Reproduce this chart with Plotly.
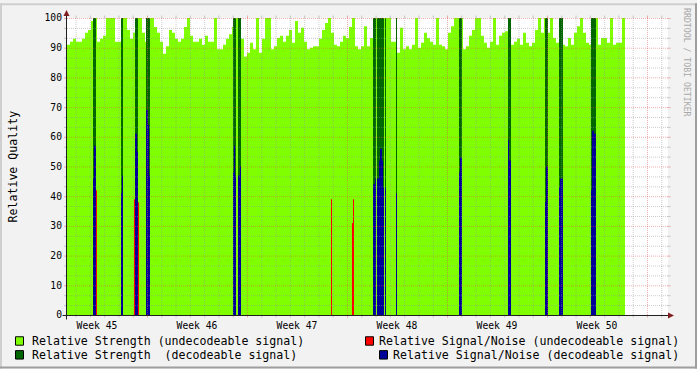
import plotly.graph_objects as go

# ---------------- data ----------------
# time unit: RRD step (one pixel column) = 1.68 h; t=0 is Monday 00:00 of ISO week 45
STEP_H = 1.68
T_START = 20          # first step shown
T_END = 621           # last step of the x axis
SAMPLE_EVERY = 3      # strength (undecodeable) consolidated every 3 steps

strength_undec = [
    91, 92, 93, 92, 92, 93, 95, 96, 99, 100,
    92, 93, 94, 100, 100, 100, 92, 92, 100, 100,
    96, 93, 95, 100, 100, 95, 92, 100, 100, 97,
    95, 92, 88, 90.5, 96, 95, 93, 92, 93, 97,
    100, 94, 92, 92, 93, 91,
    94, 92, 92, 100, 89.5, 89.5, 91, 93, 94.5, 97,
    100, 100, 93, 87, 88.3, 91.7, 89.5, 100, 88.3, 93,
    100, 100, 89.5, 90.5, 93.3, 94, 92, 94, 96, 91.7,
    99, 95, 96.7, 92, 89.5, 90, 90.5, 90.5, 93, 96,
    98.3, 100, 95, 91, 90.5, 92, 94,
    93.3, 97, 100, 90.5, 89.5, 90.5, 97.2, 90.5, 93.3, 100,
    100, 100, 100, 100, 100, 92, 92, 88.3, 96.7, 89.5,
    90.5, 89.5, 91, 100, 90, 91.7, 95, 93.3, 92, 91,
    100, 91, 90.5, 89.5, 95, 97.2, 100, 100, 100, 89.5,
    90.5, 94, 96, 100, 100, 94, 91.7,
    90, 92, 100, 91, 94, 95, 95.5, 100, 91, 92,
    93, 91, 95, 91.7, 90.5, 91.7, 96, 100, 95, 100,
    95, 100, 93.3, 91.7, 100, 91, 90.5, 93.3, 91, 95,
    97.2, 100, 95, 91.7, 91, 100, 100, 91, 93.3, 93.3,
    91.7, 100, 91, 91.7, 91.7, 100,
]

strength_dec_steps = [46, 47, 48, 74, 75, 88, 89, 90, 99, 100, 101, 102,
                      186, 187, 188, 191, 192, 193,
                      326, 327, 328, 330, 331, 332, 333, 334, 335, 336, 338, 349,
                      412, 413, 414, 461, 462, 463, 498, 499, 500,
                      512, 513, 514, 515, 544, 545, 546, 547, 548]
strength_dec_vals = [100, 100, 100, 100, 100, 100, 100, 100, 100, 100, 100, 100,
                     100, 100, 100, 100, 100, 100,
                     100, 100, 100, 100, 100, 100, 100, 100, 100, 100, 100, 100,
                     100, 100, 100, 100, 100, 100, 100, 100, 100,
                     100, 100, 100, 100, 100, 100, 100, 100, 100]

sn_dec_steps = [46, 47, 48, 74, 75, 88, 89, 90, 99, 100, 101, 102,
                186, 187, 188, 191, 192, 193,
                326, 327, 328, 330, 331, 332, 333, 334, 335, 336, 338, 349,
                412, 413, 414, 461, 462, 463, 498, 499, 500,
                512, 513, 514, 515, 544, 545, 546, 547, 548]
sn_dec_vals = [46, 57, 57, 41, 47, 61, 61, 55, 69, 69, 64, 47,
               48, 57, 47, 47, 47, 50,
               44, 44, 46, 46, 46, 52, 56, 56, 52, 43, 43, 41,
               48, 53, 53, 59, 52, 52, 38, 50, 50,
               43, 46, 46, 46, 42, 62, 62, 61, 61]

sn_undec_steps = [49, 87, 91, 284, 305, 306]
sn_undec_vals = [42, 39, 38, 39, 31, 39]

week_labels = ["Week 45", "Week 46", "Week 47", "Week 48", "Week 49", "Week 50"]
y_ticks = [0, 10, 20, 30, 40, 50, 60, 70, 80, 90, 100]

legend_labels = ["Relative Strength (undecodeable signal)",
                 "Relative Signal/Noise (undecodeable signal)",
                 "Relative Strength  (decodeable signal)",
                 "Relative Signal/Noise (decodeable signal)"]

# ---------------- style ----------------
C_LIGHT = "#80FF00"
C_DARK = "#006600"
C_RED = "#FF0000"
C_BLUE = "#000099"
C_GRID = "rgba(143,143,143,0.45)"
C_MGRID = "rgba(222,79,79,0.45)"
C_AXIS = "#1F1F1F"
C_ARROW = "#801F1F"
FONT = "DejaVu Sans Mono"

W, H = 697, 369
L, R, T, B = 67, 29, 15, 54
PW, PH = W - L - R, H - T - B


def xp(px):
    return (px - L) / PW


def yp(py):
    return (H - B - py) / PH


# ---------------- traces ----------------
fig = go.Figure()


def bars(steps, vals, color, width_steps=1):
    return go.Bar(x=[s * STEP_H for s in steps], y=vals, width=width_steps * STEP_H, offset=0,
                  marker=dict(color=color, line=dict(width=0)), hoverinfo="skip")


light_steps = [T_START + SAMPLE_EVERY * i for i in range(len(strength_undec))]
fig.add_trace(bars(light_steps, strength_undec, C_LIGHT, SAMPLE_EVERY))
fig.add_trace(bars(sn_undec_steps, sn_undec_vals, C_RED))
fig.add_trace(bars(strength_dec_steps, strength_dec_vals, C_DARK))
fig.add_trace(bars(sn_dec_steps, sn_dec_vals, C_BLUE))

x_lo, x_hi = T_START * STEP_H, T_END * STEP_H
shapes = []
half_x = 0.5 * STEP_H
half_y = 1.0 / 6.0

# vertical grid (daily minor, weekly major) drawn above the data like rrdtool
for d in range(0, 50):
    h = 24 * d
    if not (x_lo < h < x_hi):
        continue
    col = C_MGRID if d % 7 == 0 else C_GRID
    shapes.append(dict(type="line", xref="x", yref="y", x0=h + half_x, x1=h + half_x, y0=0, y1=100,
                       line=dict(color=col, width=1, dash="1px,1px"), layer="above"))
    shapes.append(dict(type="line", xref="x", yref="paper", x0=h + half_x, x1=h + half_x,
                       y0=yp(315), y1=yp(317.5), line=dict(color=col, width=1), layer="above"))
    shapes.append(dict(type="line", xref="x", yref="paper", x0=h + half_x, x1=h + half_x,
                       y0=yp(12.5), y1=yp(15), line=dict(color=col, width=1), layer="above"))

# horizontal grid
for k in range(1, 31):
    v = k * 10.0 / 3.0
    col = C_MGRID if k % 3 == 0 else C_GRID
    shapes.append(dict(type="line", xref="x", yref="y", x0=x_lo, x1=x_hi, y0=v - half_y, y1=v - half_y,
                       line=dict(color=col, width=1, dash="1px,1px"), layer="above"))
    shapes.append(dict(type="line", xref="paper", yref="y", x0=xp(64), x1=xp(66), y0=v - half_y, y1=v - half_y,
                       line=dict(color=col, width=1), layer="above"))
    shapes.append(dict(type="line", xref="paper", yref="y", x0=xp(668), x1=xp(670.5), y0=v - half_y,
                       y1=v - half_y, line=dict(color=col, width=1), layer="above"))

# axes and arrows
shapes.append(dict(type="line", xref="paper", yref="paper", x0=xp(62.5), x1=xp(670), y0=yp(315.5), y1=yp(315.5),
                   line=dict(color=C_AXIS, width=1), layer="above"))
shapes.append(dict(type="line", xref="paper", yref="paper", x0=xp(66.5), x1=xp(66.5), y0=yp(319.5), y1=yp(12),
                   line=dict(color=C_AXIS, width=1), layer="above"))
shapes.append(dict(type="path", xref="paper", yref="paper",
                   path="M %f %f L %f %f L %f %f Z" % (xp(668), yp(312.5), xp(668), yp(318.5), xp(674), yp(315.5)),
                   fillcolor=C_ARROW, line=dict(width=0), layer="above"))
shapes.append(dict(type="path", xref="paper", yref="paper",
                   path="M %f %f L %f %f L %f %f Z" % (xp(63.5), yp(13), xp(69.5), yp(13), xp(66.5), yp(7)),
                   fillcolor=C_ARROW, line=dict(width=0), layer="above"))

# image frame (rrdtool shading)
shapes.append(dict(type="line", xref="paper", yref="paper", x0=xp(0), x1=xp(W), y0=yp(1), y1=yp(1),
                   line=dict(color="#CFCFCF", width=2)))
shapes.append(dict(type="line", xref="paper", yref="paper", x0=xp(1), x1=xp(1), y0=yp(0), y1=yp(H),
                   line=dict(color="#CFCFCF", width=2)))
shapes.append(dict(type="line", xref="paper", yref="paper", x0=xp(0), x1=xp(W), y0=yp(H - 1), y1=yp(H - 1),
                   line=dict(color="#9E9E9E", width=2)))
shapes.append(dict(type="line", xref="paper", yref="paper", x0=xp(W - 1), x1=xp(W - 1), y0=yp(0), y1=yp(H),
                   line=dict(color="#9E9E9E", width=2)))

# legend boxes + texts
legend_items = [
    (C_LIGHT, 15.5, 341, legend_labels[0], 30, "left"),
    (C_RED, 365.5, 341, legend_labels[1], 681, "right"),
    (C_DARK, 15.5, 355, legend_labels[2], 30, "left"),
    (C_BLUE, 379.5, 355, legend_labels[3], 681, "right"),
]
annotations = []
for color, bx, cy, text, tx, anchor in legend_items:
    shapes.append(dict(type="rect", xref="paper", yref="paper", x0=xp(bx), x1=xp(bx + 8),
                       y0=yp(cy - 4), y1=yp(cy + 4.5), fillcolor=color, line=dict(color="#000000", width=1)))
    annotations.append(dict(text=text, xref="paper", yref="paper", x=xp(tx), y=yp(cy), xanchor=anchor,
                            yanchor="middle", showarrow=False, font=dict(family=FONT, size=11.6, color="#000000")))

annotations.append(dict(text="Relative Quality", xref="paper", yref="paper", x=xp(12), y=yp(165), textangle=-90,
                        xanchor="center", yanchor="middle", showarrow=False,
                        font=dict(family=FONT, size=11.6, color="#000000")))
annotations.append(dict(text="RRDTOOL / TOBI OETIKER", xref="paper", yref="paper", x=xp(687.5), y=yp(60),
                        textangle=90, xanchor="center", yanchor="middle", showarrow=False,
                        font=dict(family=FONT, size=8.2, color="#A8A8A8")))

fig.update_layout(
    width=W, height=H, margin=dict(l=L, r=R, t=T, b=B, pad=0),
    paper_bgcolor="#F2F2F2", plot_bgcolor="#FFFFFF",
    barmode="overlay", showlegend=False, hovermode=False,
    shapes=shapes, annotations=annotations,
    font=dict(family=FONT, color="#000000"),
    xaxis=dict(range=[x_lo, x_hi], showgrid=False, zeroline=False, showline=False,
               tickvals=[84 + 168 * k for k in range(len(week_labels))], ticktext=week_labels,
               ticks="", ticklabelstandoff=3, tickfont=dict(family=FONT, size=9.7, color="#000000"),
               fixedrange=True),
    yaxis=dict(range=[0, 100], showgrid=False, zeroline=False, showline=False,
               tickvals=y_ticks, ticks="", ticklabelstandoff=4,
               tickfont=dict(family=FONT, size=9.7, color="#000000"), fixedrange=True),
)

fig.write_html("out.html", config={"displayModeBar": False, "staticPlot": True})
